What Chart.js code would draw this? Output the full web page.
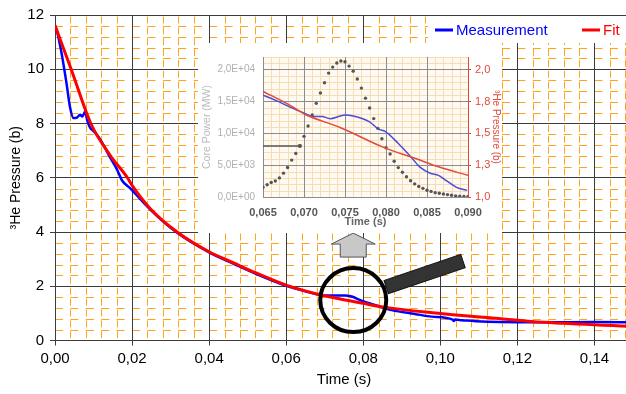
<!DOCTYPE html>
<html>
<head>
<meta charset="utf-8">
<script src="https://cdn.jsdelivr.net/npm/chart.js@4.4.1/dist/chart.umd.min.js"></script>
<style>
  html, body { margin: 0; padding: 0; background: #fff; overflow: hidden; }
  #wrap { position: relative; width: 626px; height: 394px; overflow: hidden; }
  #mainChart { position: absolute; left: 0; top: 0; }
  #insetChart { position: absolute; left: 198px; top: 43px; background: #fff; filter: blur(0.35px); }
</style>
</head>
<body>
<div id="wrap">
  <canvas id="mainChart" width="633" height="394"></canvas>
  <canvas id="insetChart" width="304" height="190"></canvas>
</div>
<script>
// 3He pressure after the power pulse: measurement vs. fitted decay,
// with a zoomed inset of the pulse window (core power + pressure).

// ---- main plot data ----
const measTime = [0.0004, 0.0017, 0.0030, 0.0039, 0.0048, 0.0057, 0.0065, 0.0071, 0.0078, 0.0084,
  0.0091, 0.0100, 0.0113, 0.0126, 0.0143, 0.0161, 0.0174, 0.0196, 0.0248, 0.0317,
  0.0400, 0.0465, 0.0520, 0.0600, 0.0660, 0.0690, 0.0720, 0.0752, 0.0770, 0.0795,
  0.0839, 0.0874, 0.0934, 0.0978, 0.1032, 0.1035, 0.1038, 0.1056, 0.1108, 0.1270,
  0.1400, 0.1500];
const measPressure = [11.5, 10.6, 9.47, 8.6, 8.2, 8.22, 8.32, 8.26, 8.43, 8.1,
  7.85, 7.72, 7.5, 7.2, 6.75, 6.3, 5.9, 5.6, 4.82, 3.97,
  3.25, 2.82, 2.47, 2.02, 1.78, 1.67, 1.66, 1.66, 1.62, 1.47,
  1.27, 1.12, 0.98, 0.88, 0.77, 0.72, 0.77, 0.75, 0.70, 0.67,
  0.68, 0.67];

const fitTime = [0, 0.0042, 0.0093, 0.0143, 0.0188, 0.0200, 0.0248, 0.0317, 0.0400, 0.0465,
  0.0520, 0.0600, 0.0690, 0.0800, 0.0850, 0.0980, 0.1056, 0.1110, 0.1270, 0.1500];
const fitPressure = [11.62, 10.0, 8.0, 6.83, 6.0, 5.72, 4.85, 4.0, 3.27, 2.85,
  2.50, 2.04, 1.68, 1.37, 1.24, 1.02, 0.92, 0.86, 0.67, 0.52];

const timeStep = 0.02;      // labelled time ticks
const pressureStep = 2;     // labelled pressure ticks

// ---- inset data (pulse window) ----
const powerTime = [0.0650, 0.0655, 0.0660, 0.0665, 0.0670, 0.0675, 0.0680, 0.0685, 0.0690, 0.0695,
  0.0700, 0.0705, 0.0710, 0.0715, 0.0720, 0.0725, 0.0730, 0.0735, 0.0740, 0.0745,
  0.0750, 0.0755, 0.0760, 0.0765, 0.0770, 0.0775, 0.0780, 0.0785, 0.0790, 0.0795,
  0.0800, 0.0805, 0.0810, 0.0815, 0.0820, 0.0825, 0.0830, 0.0835, 0.0840, 0.0845,
  0.0850, 0.0855, 0.0860, 0.0865, 0.0870, 0.0875, 0.0880, 0.0885, 0.0890, 0.0895,
  0.0900];
const corePower = [1530, 1930, 2270, 2520, 3000, 3750, 4640, 5800, 6850, 8050,
  9530, 11160, 12890, 14720, 16350, 17960, 19470, 20410, 21060, 21360,
  21260, 20570, 19780, 18540, 17110, 15530, 13990, 12320, 10790, 9160,
  7730, 6750, 5610, 4620, 3880, 3190, 2550, 2060, 1660, 1360,
  1070, 880, 680, 580, 480, 380, 280, 180, 130, 80,
  80];
const powerTicks = [0, 5000, 10000, 15000, 20000];
const powerMarkTime = [0.0650, 0.0695];
const powerMarkLevel = [8000, 8000];

const insetMeasTime = [0.0650, 0.0667, 0.0683, 0.0701, 0.0711, 0.0722, 0.0732, 0.0744, 0.0750, 0.0760,
  0.0780, 0.0791, 0.0799, 0.0815, 0.0831, 0.0841, 0.0854, 0.0864, 0.0874, 0.0886, 0.0899];
const insetMeasPressure = [1.80, 1.755, 1.706, 1.657, 1.632, 1.632, 1.615, 1.637, 1.644, 1.636,
  1.59, 1.533, 1.516, 1.42, 1.31, 1.237, 1.187, 1.17, 1.126, 1.076, 1.052];
const insetFitTime = [0.0650, 0.0683, 0.0701, 0.0744, 0.0797, 0.0837, 0.0864, 0.0900];
const insetFitPressure = [1.83, 1.72, 1.65, 1.546, 1.39, 1.30, 1.237, 1.17];

// where the magnifier sits on the main curve
const lensAt = { x: 0.0774, y: 1.49 };

const FONT = 'Liberation Sans, Arial, sans-serif';
const pts = (xs, ys) => xs.map((x, i) => ({ x: x, y: ys[i] }));
const comma = (v, d) => v.toFixed(d).replace('.', ',');

// orange dashed minor grid under the main grid lines
const minorGrid = {
  id: 'minorGrid',
  beforeDraw(chart) {
    const { ctx, chartArea: a, scales: { x, y } } = chart;
    const dx = x.getPixelForValue(0.004) - x.getPixelForValue(0);
    const dy = y.getPixelForValue(0) - y.getPixelForValue(0.4);
    ctx.save();
    ctx.strokeStyle = '#ffa31a';
    ctx.lineWidth = 1;
    ctx.setLineDash([7, dy - 7]);
    ctx.lineDashOffset = -1.5;
    for (let i = 1; i * 0.004 < 0.15; i++) {
      if (i % 5 === 0) continue;
      const px = Math.round(x.getPixelForValue(i * 0.004)) + 0.5;
      ctx.beginPath(); ctx.moveTo(px, a.top); ctx.lineTo(px, a.bottom); ctx.stroke();
    }
    ctx.setLineDash([8, dx - 8]);
    ctx.lineDashOffset = 0;
    for (let j = 1; j * 0.4 < 12; j++) {
      if (j % 5 === 0) continue;
      const py = Math.round(y.getPixelForValue(j * 0.4)) + 0.5;
      ctx.beginPath(); ctx.moveTo(a.left, py); ctx.lineTo(a.right, py); ctx.stroke();
    }
    ctx.restore();
  }
};

// magnifying glass over the pulse region and the arrow pointing at the inset
const lensDecor = {
  id: 'lensDecor',
  afterDatasetsDraw(chart) {
    const { ctx, scales: { x, y } } = chart;
    const cx = x.getPixelForValue(lensAt.x);
    const cy = y.getPixelForValue(lensAt.y);
    ctx.save();
    // handle
    ctx.save();
    ctx.translate(cx + 33, cy - 13);
    ctx.rotate(-18.7 * Math.PI / 180);
    ctx.fillStyle = '#333';
    ctx.strokeStyle = '#111';
    ctx.lineWidth = 1;
    ctx.fillRect(0, -7, 81, 14);
    ctx.strokeRect(0, -7, 81, 14);
    ctx.restore();
    // lens ring
    ctx.beginPath();
    ctx.ellipse(cx, cy, 33, 32, 0, 0, Math.PI * 2);
    ctx.strokeStyle = '#000';
    ctx.lineWidth = 4;
    ctx.stroke();
    // block arrow up
    ctx.beginPath();
    ctx.moveTo(cx, cy - 67);
    ctx.lineTo(cx + 22, cy - 56);
    ctx.lineTo(cx + 13, cy - 56);
    ctx.lineTo(cx + 13, cy - 43);
    ctx.lineTo(cx - 13, cy - 43);
    ctx.lineTo(cx - 13, cy - 56);
    ctx.lineTo(cx - 22, cy - 56);
    ctx.closePath();
    ctx.fillStyle = '#c8c8c8';
    ctx.fill();
    ctx.strokeStyle = '#555';
    ctx.lineWidth = 1;
    ctx.stroke();
    ctx.restore();
  }
};

// legend box in the top right corner of the plot
const legendBox = {
  id: 'legendBox',
  afterDraw(chart) {
    const { ctx, chartArea: a } = chart;
    const left = a.right - 205, top = a.top + 1;
    ctx.save();
    ctx.fillStyle = '#fff';
    ctx.fillRect(left, top, a.right - left, 27);
    const items = [
      { text: 'Measurement', color: '#0000ff', x: left + 7 },
      { text: 'Fit', color: '#ff0000', x: left + 154 }
    ];
    ctx.font = '15px ' + FONT;
    ctx.textBaseline = 'middle';
    items.forEach(it => {
      ctx.strokeStyle = it.color;
      ctx.lineWidth = 3;
      ctx.beginPath();
      ctx.moveTo(it.x, top + 14);
      ctx.lineTo(it.x + 18, top + 14);
      ctx.stroke();
      ctx.fillStyle = it.color;
      ctx.fillText(it.text, it.x + 21, top + 15);
    });
    ctx.restore();
  }
};

new Chart(document.getElementById('mainChart'), {
  type: 'line',
  data: {
    datasets: [
      {
        label: 'Fit',
        data: pts(fitTime, fitPressure),
        borderColor: '#ff0000',
        borderWidth: 3,
        pointRadius: 0,
        cubicInterpolationMode: 'monotone'
      },
      {
        label: 'Measurement',
        data: pts(measTime, measPressure),
        borderColor: '#0000ff',
        borderWidth: 2.5,
        pointRadius: 0,
        cubicInterpolationMode: 'monotone'
      }
    ]
  },
  options: {
    responsive: false,
    animation: false,
    devicePixelRatio: 1,
    layout: { padding: { top: 15, left: 0, right: 0, bottom: 0 } },
    plugins: { legend: { display: false }, tooltip: { enabled: false } },
    scales: {
      x: {
        type: 'linear',
        min: 0,
        max: 0.15,
        afterFit: s => { s.height = 53.5; },
        ticks: {
          stepSize: timeStep,
          includeBounds: false,
          padding: 4,
          maxRotation: 0,
          color: '#000',
          font: { family: FONT, size: 15 },
          callback: v => comma(v, 2)
        },
        grid: { color: '#3c3c3c', tickLength: 5, tickColor: '#3c3c3c' },
        border: { color: '#3c3c3c' },
        title: {
          display: true,
          text: 'Time (s)',
          color: '#000',
          font: { family: FONT, size: 15 },
          padding: { top: 0, bottom: 5 }
        }
      },
      y: {
        min: 0,
        max: 12,
        afterFit: s => { s.width = 55; },
        ticks: {
          stepSize: pressureStep,
          padding: 6,
          color: '#000',
          font: { family: FONT, size: 15 }
        },
        grid: { color: '#3c3c3c', tickLength: 5, tickColor: '#3c3c3c' },
        border: { color: '#3c3c3c' },
        title: {
          display: true,
          text: '³He Pressure (b)',
          color: '#000',
          font: { family: FONT, size: 14 },
          padding: { top: 8, bottom: 0 }
        }
      }
    }
  },
  plugins: [minorGrid, lensDecor, legendBox]
});

// ---- inset ----
const insetBackdrop = {
  id: 'insetBackdrop',
  beforeDraw(chart) {
    const { ctx, chartArea: a, scales: { x, yPow } } = chart;
    ctx.save();
    ctx.fillStyle = '#fff';
    ctx.fillRect(0, 0, chart.width, chart.height);
    ctx.fillStyle = '#fffaf1';
    ctx.fillRect(a.left, a.top, a.right - a.left, a.bottom - a.top);
    ctx.strokeStyle = '#f8dcb4';
    ctx.lineWidth = 1;
    for (let i = 1; i < 25; i++) {
      if (i % 5 === 0) continue;
      const px = Math.round(x.getPixelForValue(0.065 + i * 0.001)) + 0.5;
      ctx.beginPath(); ctx.moveTo(px, a.top); ctx.lineTo(px, a.bottom); ctx.stroke();
    }
    for (let j = 1; j <= 22; j++) {
      if (j % 5 === 0) continue;
      const py = Math.round(yPow.getPixelForValue(j * 1000)) + 0.5;
      ctx.beginPath(); ctx.moveTo(a.left, py); ctx.lineTo(a.right, py); ctx.stroke();
    }
    ctx.restore();
  }
};

const expLabel = v => {
  if (v === 0) return '0,0E+00';
  const e = Math.floor(Math.log10(v));
  return comma(v / Math.pow(10, e), 1) + 'E+' + String(e).padStart(2, '0');
};

new Chart(document.getElementById('insetChart'), {
  type: 'line',
  data: {
    datasets: [
      {
        label: 'Fit',
        data: pts(insetFitTime, insetFitPressure),
        yAxisID: 'yP',
        borderColor: '#e04a3c',
        borderWidth: 1.5,
        pointRadius: 0,
        cubicInterpolationMode: 'monotone'
      },
      {
        label: 'Measurement',
        data: pts(insetMeasTime, insetMeasPressure),
        yAxisID: 'yP',
        borderColor: '#4b4bd8',
        borderWidth: 1.5,
        pointRadius: 0,
        cubicInterpolationMode: 'monotone'
      },
      {
        label: 'Power level',
        data: pts(powerMarkTime, powerMarkLevel),
        yAxisID: 'yPow',
        borderColor: '#555',
        borderWidth: 1.5,
        pointRadius: [0, 2],
        pointBackgroundColor: '#555',
        pointBorderWidth: 0
      },
      {
        label: 'Core Power',
        data: pts(powerTime, corePower),
        yAxisID: 'yPow',
        showLine: false,
        pointRadius: 1.7,
        pointBackgroundColor: '#555',
        pointBorderWidth: 0
      }
    ]
  },
  options: {
    responsive: false,
    animation: false,
    devicePixelRatio: 1,
    layout: { padding: { top: 7, left: 0, right: 0, bottom: 0 } },
    plugins: { legend: { display: false }, tooltip: { enabled: false } },
    scales: {
      x: {
        type: 'linear',
        min: 0.065,
        max: 0.09,
        afterFit: s => { s.height = 36; },
        ticks: {
          stepSize: 0.005,
          includeBounds: false,
          autoSkip: false,
          maxRotation: 0,
          padding: 9,
          color: '#555',
          font: { family: FONT, size: 11, weight: 'bold' },
          callback: v => comma(v, 3)
        },
        grid: { color: '#8c8c8c', drawTicks: false },
        border: { display: false },
        title: {
          display: true,
          text: 'Time (s)',
          color: '#666',
          font: { family: FONT, size: 11, weight: 'bold' },
          padding: { top: 0, bottom: 4 }
        }
      },
      yPow: {
        position: 'left',
        min: 0,
        max: 22000,
        afterFit: s => { s.width = 65; },
        afterBuildTicks: s => { s.ticks = powerTicks.map(v => ({ value: v })); },
        ticks: {
          padding: 8,
          color: '#b0b0b0',
          font: { family: FONT, size: 10 },
          callback: expLabel
        },
        grid: { color: '#8c8c8c', drawTicks: false },
        border: { display: false },
        title: {
          display: true,
          text: 'Core Power (MW)',
          color: '#bbb',
          font: { family: FONT, size: 10.5 },
          padding: { top: 3, bottom: 0 }
        }
      },
      yP: {
        position: 'right',
        min: 1.0,
        max: 2.1,
        afterFit: s => { s.width = 34; },
        ticks: {
          stepSize: 0.25,
          includeBounds: false,
          padding: 4,
          color: '#e04a3c',
          font: { family: FONT, size: 11 },
          callback: v => comma(v, 1)
        },
        grid: { drawOnChartArea: false, tickLength: 3, tickColor: '#e04a3c' },
        border: { color: '#e04a3c' },
        title: {
          display: true,
          text: '³He Pressure (b)',
          color: '#e04a3c',
          font: { family: FONT, size: 10 },
          padding: { top: 0, bottom: 0 }
        }
      }
    }
  },
  plugins: [insetBackdrop]
});
</script>
</body>
</html>
